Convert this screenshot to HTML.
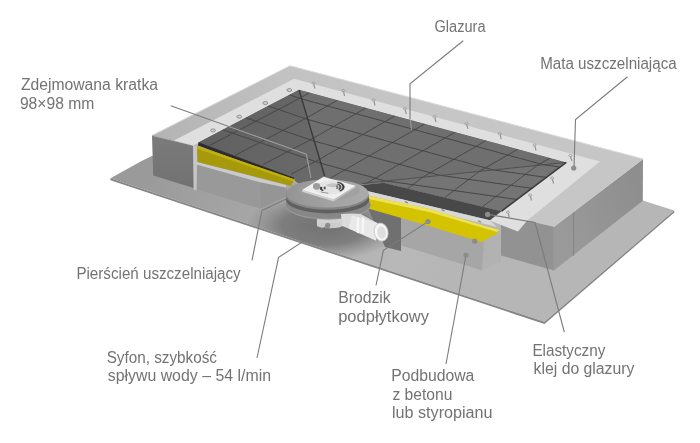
<!DOCTYPE html>
<html><head><meta charset="utf-8">
<style>
html,body{margin:0;padding:0;background:#fff;width:700px;height:443px;overflow:hidden}
svg{position:absolute;left:0;top:0;display:block}
text{font-family:"Liberation Sans",sans-serif;font-size:16px;fill:#737373}
.lbl{will-change:transform}
</style></head><body>
<svg width="700" height="443" viewBox="0 0 700 443">
<defs><linearGradient id="gslab" gradientUnits="userSpaceOnUse" x1="150" y1="165" x2="450" y2="300"><stop offset="0" stop-color="#9a9a9a"/><stop offset="0.35" stop-color="#a6a6a6"/><stop offset="0.8" stop-color="#b8b8b8"/><stop offset="1" stop-color="#b6b6b6"/></linearGradient><radialGradient id="gsh" cx="0.5" cy="0.5" r="0.5"><stop offset="0" stop-color="#6e6e6e" stop-opacity="0.95"/><stop offset="0.55" stop-color="#727272" stop-opacity="0.8"/><stop offset="1" stop-color="#7a7a7a" stop-opacity="0"/></radialGradient><clipPath id="slabclip"><polygon points="110.4,178.3 143.4,160.0 152.0,156.0 300.0,120.0 642.8,200.6 674.3,210.5 544.5,321.8"/></clipPath><linearGradient id="grbr" gradientUnits="userSpaceOnUse" x1="555" y1="225" x2="640" y2="190"><stop offset="0" stop-color="#9a9a9a"/><stop offset="1" stop-color="#8e8e8e"/></linearGradient><linearGradient id="gtop" gradientUnits="userSpaceOnUse" x1="160" y1="130" x2="420" y2="90"><stop offset="0" stop-color="#b4b4b4"/><stop offset="0.5" stop-color="#c2c2c2"/><stop offset="1" stop-color="#c6c6c6"/></linearGradient><linearGradient id="glb" gradientUnits="userSpaceOnUse" x1="170" y1="136" x2="170" y2="185"><stop offset="0" stop-color="#7b7b7b"/><stop offset="1" stop-color="#727272"/></linearGradient><clipPath id="tclip"><polygon points="299.0,89.7 566.3,162.4 501.6,211.2 383.5,182.7 362.0,184.5 350.0,190.0 330.0,192.0 305.0,188.0 296.0,181.5 294.0,178.8 198.3,142.4"/></clipPath><linearGradient id="gtile" gradientUnits="userSpaceOnUse" x1="220" y1="140" x2="520" y2="170"><stop offset="0" stop-color="#616161"/><stop offset="0.4" stop-color="#6c6c6c"/><stop offset="1" stop-color="#747474"/></linearGradient><linearGradient id="gtl" gradientUnits="userSpaceOnUse" x1="200" y1="140" x2="320" y2="180"><stop offset="0" stop-color="#606060"/><stop offset="1" stop-color="#6a6a6a"/></linearGradient><linearGradient id="gfl" gradientUnits="userSpaceOnUse" x1="286" y1="194" x2="369" y2="194"><stop offset="0" stop-color="#939393"/><stop offset="0.5" stop-color="#a2a2a2"/><stop offset="1" stop-color="#ababab"/></linearGradient></defs>
<polygon points="110.4,178.3 143.4,160.0 152.0,156.0 300.0,120.0 642.8,200.6 674.3,210.5 544.5,321.8" fill="url(#gslab)" />
<polygon points="110.4,178.3 544.5,321.8 674.3,210.5 674.3,212.5 544.5,324.0 110.4,180.3" fill="#868686" />
<ellipse cx="325" cy="226" rx="78" ry="34" fill="url(#gsh)" clip-path="url(#slabclip)"/>
<polygon points="553.9,226.7 643.0,158.9 642.8,200.8 553.9,270.4" fill="url(#grbr)" />
<polygon points="553.9,226.7 553.9,270.4 501.0,255.5 501.0,214.6" fill="#929292" />
<line x1="573.6" y1="212.5" x2="573.6" y2="256.0" stroke="#7e7e7e" stroke-width="0.8" />
<line x1="553.9" y1="226.7" x2="553.9" y2="270.4" stroke="#9c9c9c" stroke-width="0.8" />
<polygon points="152.0,135.5 290.0,65.8 643.0,158.9 553.9,226.7 527.5,220.6 499.0,211.0 193.0,145.4" fill="url(#gtop)" />
<polyline points="152.0,135.5 290.0,65.8 643.0,158.9" fill="none" stroke="#d8d8d8" stroke-width="1"/>
<polyline points="643.0,158.9 553.9,226.7" fill="none" stroke="#c8c8c8" stroke-width="1"/>
<polygon points="152.0,135.5 193.0,145.4 194.4,188.3 153.2,175.5" fill="url(#glb)" />
<polyline points="152.0,135.5 193.0,145.4" fill="none" stroke="#a8a8a8" stroke-width="0.8"/>
<polygon points="260.0,181.4 287.0,188.0 286.0,196.8 260.3,208.7" fill="#959595" />
<polygon points="195.5,163.9 260.0,180.6 260.3,208.7 195.5,189.0" fill="#999999" />
<polygon points="195.5,161.6 286.0,185.0 286.0,187.5 260.0,182.3 195.5,164.2" fill="#cacaca" />
<polygon points="481.0,240.0 501.0,234.0 501.0,262.0 482.0,270.3" fill="#b2b2b2" />
<polygon points="400.0,217.0 484.0,242.0 482.0,270.3 401.3,245.5" fill="#a6a6a6" />
<polygon points="367.0,206.0 401.0,216.0 401.0,251.0 385.0,247.0" fill="#707070" />
<polygon points="174.0,140.6 294.0,78.8 600.0,161.5 527.5,220.3 518.0,231.6 490.0,220.5 499.0,211.5 198.5,143.0 193.0,145.4" fill="#dfdfdf" />
<polygon points="193.0,145.4 197.0,146.0 197.0,164.0 196.6,190.5 193.6,189.4" fill="#c6c6c6" />
<ellipse cx="213" cy="130.4" rx="2.4" ry="1.5" fill="#cfcfcf" stroke="#8a8a8a" stroke-width="0.9"/>
<ellipse cx="239.2" cy="116.7" rx="2.4" ry="1.5" fill="#cfcfcf" stroke="#8a8a8a" stroke-width="0.9"/>
<ellipse cx="265.3" cy="103" rx="2.4" ry="1.5" fill="#cfcfcf" stroke="#8a8a8a" stroke-width="0.9"/>
<ellipse cx="289.3" cy="90.1" rx="2.4" ry="1.5" fill="#cfcfcf" stroke="#8a8a8a" stroke-width="0.9"/>
<ellipse cx="313.5" cy="83.1" rx="1.6" ry="1.1" fill="none" stroke="#9a9a9a" stroke-width="0.8"/>
<line x1="313.8" y1="84.2" x2="314.9" y2="88.5" stroke="#959595" stroke-width="1.2" />
<ellipse cx="343.2" cy="90.5" rx="1.6" ry="1.1" fill="none" stroke="#9a9a9a" stroke-width="0.8"/>
<line x1="343.5" y1="91.6" x2="344.6" y2="95.9" stroke="#959595" stroke-width="1.2" />
<ellipse cx="373.6" cy="100.1" rx="1.6" ry="1.1" fill="none" stroke="#9a9a9a" stroke-width="0.8"/>
<line x1="373.9" y1="101.2" x2="375.0" y2="105.5" stroke="#959595" stroke-width="1.2" />
<ellipse cx="404.9" cy="108.7" rx="1.6" ry="1.1" fill="none" stroke="#9a9a9a" stroke-width="0.8"/>
<line x1="405.2" y1="109.8" x2="406.3" y2="114.1" stroke="#959595" stroke-width="1.2" />
<ellipse cx="434.6" cy="116.7" rx="1.6" ry="1.1" fill="none" stroke="#9a9a9a" stroke-width="0.8"/>
<line x1="434.9" y1="117.8" x2="436.0" y2="122.1" stroke="#959595" stroke-width="1.2" />
<ellipse cx="466.5" cy="123.5" rx="1.6" ry="1.1" fill="none" stroke="#9a9a9a" stroke-width="0.8"/>
<line x1="466.8" y1="124.6" x2="467.9" y2="128.9" stroke="#959595" stroke-width="1.2" />
<ellipse cx="499.9" cy="133.7" rx="1.6" ry="1.1" fill="none" stroke="#9a9a9a" stroke-width="0.8"/>
<line x1="500.2" y1="134.8" x2="501.3" y2="139.1" stroke="#959595" stroke-width="1.2" />
<ellipse cx="534.6" cy="145.1" rx="1.6" ry="1.1" fill="none" stroke="#9a9a9a" stroke-width="0.8"/>
<line x1="534.9" y1="146.2" x2="536.0" y2="150.5" stroke="#959595" stroke-width="1.2" />
<ellipse cx="570.4" cy="155.6" rx="1.6" ry="1.1" fill="none" stroke="#9a9a9a" stroke-width="0.8"/>
<line x1="570.7" y1="156.7" x2="571.8" y2="161.0" stroke="#959595" stroke-width="1.2" />
<ellipse cx="552.1" cy="178.1" rx="1.6" ry="1.1" fill="none" stroke="#9a9a9a" stroke-width="0.8"/>
<line x1="552.4" y1="179.2" x2="553.5" y2="183.5" stroke="#959595" stroke-width="1.2" />
<ellipse cx="530.1" cy="195.1" rx="1.6" ry="1.1" fill="none" stroke="#9a9a9a" stroke-width="0.8"/>
<line x1="530.4" y1="196.2" x2="531.5" y2="200.5" stroke="#959595" stroke-width="1.2" />
<ellipse cx="507.9" cy="212.1" rx="1.6" ry="1.1" fill="none" stroke="#9a9a9a" stroke-width="0.8"/>
<line x1="508.2" y1="213.2" x2="509.3" y2="217.5" stroke="#959595" stroke-width="1.2" />
<polygon points="299.0,89.7 566.3,162.4 501.6,211.2 383.5,182.7 362.0,184.5 350.0,190.0 330.0,192.0 305.0,188.0 296.0,181.5 294.0,178.8 198.3,142.4" fill="url(#gtile)" />
<g clip-path="url(#tclip)">
<polygon points="299.0,89.7 198.3,142.4 193.3,162.4 327.5,206.5 327.5,186.5" fill="url(#gtl)" />
<polygon points="299.0,89.7 566.3,162.4 327.5,186.5" fill="#6f6f6f" />
<polygon points="566.3,162.4 571.3,162.4 506.6,231.2 327.5,206.5 327.5,186.5" fill="#747474" />
</g>
<g clip-path="url(#tclip)">
<polyline points="309.7,92.6 308.8,93.1 308.0,93.6 307.1,94.1 306.2,94.6 305.3,95.1 304.5,95.6 303.6,96.1 302.7,96.6 301.8,97.1 301.0,97.6 300.1,98.1 299.3,98.5 298.5,98.9 297.6,99.4 296.8,99.8 295.9,100.3 295.1,100.7 294.3,101.1 293.4,101.6 292.6,102.0 291.7,102.5 290.9,102.9 290.1,103.3 289.2,103.8 288.4,104.2 287.5,104.7 286.7,105.1 285.9,105.5 285.0,106.0 284.2,106.4 283.3,106.9 282.5,107.3 281.7,107.7 280.8,108.2 280.0,108.6 279.2,109.0 278.3,109.5 277.5,109.9 276.6,110.4 275.8,110.8 275.0,111.2 274.1,111.7 273.3,112.1 272.4,112.6 271.6,113.0 270.8,113.4 269.9,113.9 269.1,114.3 268.2,114.8 267.4,115.2 266.6,115.6 265.7,116.1 264.9,116.5 264.0,117.0 263.2,117.4 262.4,117.8 261.5,118.3 260.7,118.7 259.9,119.1 259.0,119.6 258.2,120.0 257.3,120.5 256.5,120.9 255.7,121.3 254.8,121.8 254.0,122.2 253.1,122.7 252.3,123.1 251.5,123.5 250.6,124.0 249.8,124.4 248.9,124.9 248.1,125.3 247.3,125.7 246.4,126.2 245.6,126.6 244.7,127.1 243.9,127.5 243.1,127.9 242.2,128.4 241.4,128.8 240.6,129.2 239.7,129.7 238.9,130.1 238.0,130.6 237.2,131.0 236.4,131.4 235.5,131.9 234.7,132.3 233.8,132.8 233.0,133.2 232.2,133.6 231.3,134.1 230.5,134.5 229.6,135.0 228.8,135.4 228.0,135.8 227.1,136.3 226.3,136.7 225.4,137.2 224.6,137.6 223.8,138.0 222.9,138.5 222.1,138.9 221.2,139.3 220.4,139.8 219.6,140.2 218.7,140.7 217.9,141.1 217.1,141.5 216.2,142.0 215.4,142.4 214.5,142.9 213.7,143.3 212.9,143.7 212.0,144.2 211.2,144.6 210.3,145.1 209.5,145.5 208.7,145.9" fill="none" stroke="#454545" stroke-width="1"/>
<polyline points="337.5,100.2 336.7,100.7 335.8,101.2 334.9,101.7 334.0,102.2 333.2,102.7 332.3,103.2 331.4,103.7 330.5,104.2 329.7,104.7 328.8,105.2 327.9,105.7 327.0,106.2 326.2,106.7 325.3,107.2 324.4,107.7 323.5,108.2 322.6,108.7 321.8,109.3 320.9,109.8 320.0,110.3 319.1,110.8 318.3,111.3 317.4,111.8 316.5,112.3 315.6,112.8 314.8,113.3 313.9,113.8 313.0,114.3 312.1,114.8 311.3,115.3 310.4,115.8 309.5,116.3 308.6,116.8 307.8,117.3 306.9,117.8 306.1,118.2 305.2,118.7 304.4,119.1 303.5,119.5 302.7,120.0 301.9,120.4 301.0,120.9 300.2,121.3 299.3,121.7 298.5,122.2 297.7,122.6 296.8,123.1 296.0,123.5 295.1,123.9 294.3,124.4 293.5,124.8 292.6,125.3 291.8,125.7 290.9,126.1 290.1,126.6 289.3,127.0 288.4,127.5 287.6,127.9 286.8,128.3 285.9,128.8 285.1,129.2 284.2,129.6 283.4,130.1 282.6,130.5 281.7,131.0 280.9,131.4 280.0,131.8 279.2,132.3 278.4,132.7 277.5,133.2 276.7,133.6 275.8,134.0 275.0,134.5 274.2,134.9 273.3,135.4 272.5,135.8 271.6,136.2 270.8,136.7 270.0,137.1 269.1,137.6 268.3,138.0 267.4,138.4 266.6,138.9 265.8,139.3 264.9,139.7 264.1,140.2 263.3,140.6 262.4,141.1 261.6,141.5 260.7,141.9 259.9,142.4 259.1,142.8 258.2,143.3 257.4,143.7 256.5,144.1 255.7,144.6 254.9,145.0 254.0,145.5 253.2,145.9 252.3,146.3 251.5,146.8 250.7,147.2 249.8,147.7 249.0,148.1 248.1,148.5 247.3,149.0 246.5,149.4 245.6,149.8 244.8,150.3 244.0,150.7 243.1,151.2 242.3,151.6 241.4,152.0 240.6,152.5 239.8,152.9 238.9,153.4 238.1,153.8 237.2,154.2 236.4,154.7 235.6,155.1" fill="none" stroke="#454545" stroke-width="1"/>
<polyline points="366.0,107.9 365.1,108.4 364.3,108.9 363.4,109.4 362.5,109.9 361.6,110.4 360.8,110.9 359.9,111.5 359.0,112.0 358.1,112.5 357.2,113.0 356.4,113.5 355.5,114.0 354.6,114.5 353.7,115.0 352.9,115.5 352.0,116.0 351.1,116.5 350.2,117.0 349.4,117.5 348.5,118.0 347.6,118.5 346.7,119.0 345.9,119.5 345.0,120.0 344.1,120.5 343.2,121.0 342.4,121.5 341.5,122.0 340.6,122.5 339.7,123.0 338.8,123.5 338.0,124.0 337.1,124.5 336.2,125.1 335.3,125.6 334.5,126.1 333.6,126.6 332.7,127.1 331.8,127.6 331.0,128.1 330.1,128.6 329.2,129.1 328.3,129.6 327.5,130.1 326.6,130.6 325.7,131.1 324.8,131.6 324.0,132.1 323.1,132.6 322.2,133.1 321.3,133.6 320.4,134.1 319.6,134.6 318.7,135.1 317.8,135.6 316.9,136.1 316.1,136.6 315.2,137.1 314.3,137.6 313.4,138.2 312.6,138.6 311.8,139.0 310.9,139.5 310.1,139.9 309.2,140.4 308.4,140.8 307.6,141.2 306.7,141.7 305.9,142.1 305.0,142.6 304.2,143.0 303.4,143.4 302.5,143.9 301.7,144.3 300.8,144.7 300.0,145.2 299.2,145.6 298.3,146.1 297.5,146.5 296.6,146.9 295.8,147.4 295.0,147.8 294.1,148.3 293.3,148.7 292.5,149.1 291.6,149.6 290.8,150.0 289.9,150.5 289.1,150.9 288.3,151.3 287.4,151.8 286.6,152.2 285.7,152.7 284.9,153.1 284.1,153.5 283.2,154.0 282.4,154.4 281.5,154.9 280.7,155.3 279.9,155.7 279.0,156.2 278.2,156.6 277.3,157.0 276.5,157.5 275.7,157.9 274.8,158.4 274.0,158.8 273.2,159.2 272.3,159.7 271.5,160.1 270.6,160.6 269.8,161.0 269.0,161.4 268.1,161.9 267.3,162.3 266.4,162.8 265.6,163.2 264.8,163.6 263.9,164.1 263.1,164.5" fill="none" stroke="#454545" stroke-width="1"/>
<polyline points="395.1,115.8 394.2,116.3 393.4,116.9 392.5,117.4 391.6,117.9 390.7,118.4 389.9,118.9 389.0,119.4 388.1,119.9 387.2,120.4 386.4,120.9 385.5,121.4 384.6,121.9 383.7,122.4 382.9,122.9 382.0,123.4 381.1,123.9 380.2,124.4 379.3,124.9 378.5,125.4 377.6,125.9 376.7,126.4 375.8,126.9 375.0,127.4 374.1,127.9 373.2,128.4 372.3,128.9 371.5,129.4 370.6,129.9 369.7,130.5 368.8,131.0 368.0,131.5 367.1,132.0 366.2,132.5 365.3,133.0 364.5,133.5 363.6,134.0 362.7,134.5 361.8,135.0 360.9,135.5 360.1,136.0 359.2,136.5 358.3,137.0 357.4,137.5 356.6,138.0 355.7,138.5 354.8,139.0 353.9,139.5 353.1,140.0 352.2,140.5 351.3,141.0 350.4,141.5 349.6,142.0 348.7,142.5 347.8,143.0 346.9,143.5 346.1,144.1 345.2,144.6 344.3,145.1 343.4,145.6 342.5,146.1 341.7,146.6 340.8,147.1 339.9,147.6 339.0,148.1 338.2,148.6 337.3,149.1 336.4,149.6 335.5,150.1 334.7,150.6 333.8,151.1 332.9,151.6 332.0,152.1 331.2,152.6 330.3,153.1 329.4,153.6 328.5,154.1 327.6,154.6 326.8,155.1 325.9,155.6 325.0,156.1 324.1,156.6 323.3,157.2 322.4,157.7 321.5,158.2 320.6,158.7 319.8,159.2 318.9,159.6 318.1,160.1 317.2,160.5 316.4,160.9 315.6,161.4 314.7,161.8 313.9,162.3 313.0,162.7 312.2,163.1 311.4,163.6 310.5,164.0 309.7,164.5 308.8,164.9 308.0,165.3 307.2,165.8 306.3,166.2 305.5,166.7 304.6,167.1 303.8,167.5 303.0,168.0 302.1,168.4 301.3,168.8 300.5,169.3 299.6,169.7 298.8,170.2 297.9,170.6 297.1,171.0 296.3,171.5 295.4,171.9 294.6,172.4 293.7,172.8 292.9,173.2 292.1,173.7 291.2,174.1" fill="none" stroke="#454545" stroke-width="1"/>
<polyline points="424.8,123.9 424.0,124.4 423.1,124.9 422.2,125.4 421.3,125.9 420.5,126.4 419.6,126.9 418.7,127.5 417.8,128.0 417.0,128.5 416.1,129.0 415.2,129.5 414.3,130.0 413.5,130.5 412.6,131.0 411.7,131.5 410.8,132.0 409.9,132.5 409.1,133.0 408.2,133.5 407.3,134.0 406.4,134.5 405.6,135.0 404.7,135.5 403.8,136.0 402.9,136.5 402.1,137.0 401.2,137.5 400.3,138.0 399.4,138.5 398.6,139.0 397.7,139.5 396.8,140.0 395.9,140.6 395.1,141.1 394.2,141.6 393.3,142.1 392.4,142.6 391.5,143.1 390.7,143.6 389.8,144.1 388.9,144.6 388.0,145.1 387.2,145.6 386.3,146.1 385.4,146.6 384.5,147.1 383.7,147.6 382.8,148.1 381.9,148.6 381.0,149.1 380.2,149.6 379.3,150.1 378.4,150.6 377.5,151.1 376.7,151.6 375.8,152.1 374.9,152.6 374.0,153.1 373.1,153.6 372.3,154.2 371.4,154.7 370.5,155.2 369.6,155.7 368.8,156.2 367.9,156.7 367.0,157.2 366.1,157.7 365.3,158.2 364.4,158.7 363.5,159.2 362.6,159.7 361.8,160.2 360.9,160.7 360.0,161.2 359.1,161.7 358.2,162.2 357.4,162.7 356.5,163.2 355.6,163.7 354.7,164.2 353.9,164.7 353.0,165.2 352.1,165.7 351.2,166.2 350.4,166.7 349.5,167.2 348.6,167.8 347.7,168.3 346.9,168.8 346.0,169.3 345.1,169.8 344.2,170.3 343.4,170.8 342.5,171.3 341.6,171.8 340.7,172.3 339.8,172.8 339.0,173.3 338.1,173.8 337.2,174.3 336.3,174.8 335.5,175.3 334.6,175.8 333.7,176.3 332.8,176.8 332.0,177.3 331.1,177.8 330.2,178.3 329.3,178.8 328.5,179.3 327.6,179.8 326.7,180.3 325.8,180.9 325.0,181.3 324.2,181.7 323.3,182.2 322.5,182.6 321.6,183.0 320.8,183.5 320.0,183.9" fill="none" stroke="#454545" stroke-width="1"/>
<polyline points="455.2,132.2 454.3,132.7 453.5,133.2 452.6,133.7 451.7,134.2 450.8,134.7 450.0,135.2 449.1,135.7 448.2,136.2 447.3,136.7 446.4,137.2 445.6,137.7 444.7,138.2 443.8,138.7 442.9,139.2 442.1,139.7 441.2,140.2 440.3,140.7 439.4,141.3 438.6,141.8 437.7,142.3 436.8,142.8 435.9,143.3 435.1,143.8 434.2,144.3 433.3,144.8 432.4,145.3 431.6,145.8 430.7,146.3 429.8,146.8 428.9,147.3 428.0,147.8 427.2,148.3 426.3,148.8 425.4,149.3 424.5,149.8 423.7,150.3 422.8,150.8 421.9,151.3 421.0,151.8 420.2,152.3 419.3,152.8 418.4,153.3 417.5,153.8 416.7,154.4 415.8,154.9 414.9,155.4 414.0,155.9 413.2,156.4 412.3,156.9 411.4,157.4 410.5,157.9 409.6,158.4 408.8,158.9 407.9,159.4 407.0,159.9 406.1,160.4 405.3,160.9 404.4,161.4 403.5,161.9 402.6,162.4 401.8,162.9 400.9,163.4 400.0,163.9 399.1,164.4 398.3,164.9 397.4,165.4 396.5,165.9 395.6,166.4 394.7,166.9 393.9,167.4 393.0,168.0 392.1,168.5 391.2,169.0 390.4,169.5 389.5,170.0 388.6,170.5 387.7,171.0 386.9,171.5 386.0,172.0 385.1,172.5 384.2,173.0 383.4,173.5 382.5,174.0 381.6,174.5 380.7,175.0 379.9,175.5 379.0,176.0 378.1,176.5 377.2,177.0 376.3,177.5 375.5,178.0 374.6,178.5 373.7,179.0 372.8,179.5 372.0,180.0 371.1,180.5 370.2,181.0 369.3,181.6 368.5,182.1 367.7,182.5 367.1,182.9 366.6,183.3 366.1,183.8 365.5,184.2 365.0,184.6 364.4,185.0 363.9,185.4 363.4,185.8 362.8,186.2 362.3,186.6 361.7,187.0 361.2,187.4 360.7,187.8 360.1,188.2 359.6,188.6 359.0,189.0 358.5,189.4 358.0,189.9 357.4,190.3 356.9,190.7" fill="none" stroke="#454545" stroke-width="1"/>
<polyline points="486.2,140.6 485.3,141.1 484.5,141.6 483.6,142.1 482.7,142.6 481.8,143.1 481.0,143.6 480.1,144.1 479.2,144.6 478.3,145.2 477.5,145.7 476.6,146.2 475.7,146.7 474.8,147.2 473.9,147.7 473.1,148.2 472.2,148.7 471.3,149.2 470.4,149.7 469.6,150.2 468.7,150.7 467.8,151.2 466.9,151.7 466.1,152.2 465.2,152.7 464.3,153.2 463.4,153.7 462.6,154.2 461.7,154.7 460.8,155.2 459.9,155.7 459.1,156.2 458.2,156.7 457.3,157.2 456.4,157.7 455.5,158.3 454.7,158.8 453.8,159.3 452.9,159.8 452.0,160.3 451.2,160.8 450.3,161.3 449.4,161.8 448.5,162.3 447.7,162.8 446.8,163.3 445.9,163.8 445.0,164.3 444.2,164.8 443.3,165.3 442.4,165.8 441.5,166.3 440.7,166.8 439.8,167.3 438.9,167.8 438.0,168.3 437.1,168.8 436.3,169.3 435.4,169.8 434.5,170.3 433.6,170.8 432.8,171.3 431.9,171.9 431.0,172.4 430.1,172.9 429.3,173.4 428.4,173.9 427.5,174.4 426.6,174.9 425.8,175.4 424.9,175.9 424.0,176.4 423.2,176.9 422.6,177.3 422.1,177.7 421.5,178.1 421.0,178.5 420.5,178.9 419.9,179.3 419.4,179.7 418.8,180.1 418.3,180.5 417.8,180.9 417.2,181.4 416.7,181.8 416.2,182.2 415.6,182.6 415.1,183.0 414.5,183.4 414.0,183.8 413.5,184.2 412.9,184.6 412.4,185.0 411.8,185.4 411.3,185.8 410.8,186.2 410.2,186.6 409.7,187.0 409.1,187.5 408.6,187.9 408.1,188.3 407.5,188.7 407.0,189.1 406.4,189.5 405.9,189.9 405.4,190.3 404.8,190.7 404.3,191.1 403.7,191.5 403.2,191.9 402.7,192.3 402.1,192.7 401.6,193.1 401.1,193.6 400.5,194.0 400.0,194.4 399.4,194.8 398.9,195.2 398.4,195.6 397.8,196.0 397.3,196.4" fill="none" stroke="#454545" stroke-width="1"/>
<polyline points="517.8,149.2 517.0,149.7 516.1,150.2 515.2,150.7 514.3,151.2 513.5,151.7 512.6,152.2 511.7,152.7 510.8,153.2 510.0,153.8 509.1,154.3 508.2,154.8 507.3,155.3 506.4,155.8 505.6,156.3 504.7,156.8 503.8,157.3 502.9,157.8 502.1,158.3 501.2,158.8 500.3,159.3 499.4,159.8 498.6,160.3 497.7,160.8 496.8,161.3 495.9,161.8 495.1,162.3 494.2,162.8 493.3,163.3 492.4,163.8 491.6,164.3 490.7,164.8 489.8,165.3 488.9,165.8 488.0,166.3 487.2,166.9 486.3,167.4 485.4,167.9 484.5,168.4 483.7,168.9 482.8,169.4 481.9,169.9 481.0,170.4 480.2,170.9 479.4,171.3 478.9,171.7 478.4,172.2 477.8,172.6 477.3,173.0 476.8,173.4 476.2,173.8 475.7,174.2 475.1,174.6 474.6,175.0 474.1,175.4 473.5,175.8 473.0,176.2 472.4,176.6 471.9,177.0 471.4,177.4 470.8,177.8 470.3,178.3 469.7,178.7 469.2,179.1 468.7,179.5 468.1,179.9 467.6,180.3 467.0,180.7 466.5,181.1 466.0,181.5 465.4,181.9 464.9,182.3 464.4,182.7 463.8,183.1 463.3,183.5 462.7,183.9 462.2,184.4 461.7,184.8 461.1,185.2 460.6,185.6 460.0,186.0 459.5,186.4 459.0,186.8 458.4,187.2 457.9,187.6 457.3,188.0 456.8,188.4 456.3,188.8 455.7,189.2 455.2,189.6 454.6,190.0 454.1,190.5 453.6,190.9 453.0,191.3 452.5,191.7 452.0,192.1 451.4,192.5 450.9,192.9 450.3,193.3 449.8,193.7 449.3,194.1 448.7,194.5 448.2,194.9 447.6,195.3 447.1,195.7 446.6,196.1 446.0,196.6 445.5,197.0 444.9,197.4 444.4,197.8 443.9,198.2 443.3,198.6 442.8,199.0 442.2,199.4 441.7,199.8 441.2,200.2 440.6,200.6 440.1,201.0 439.5,201.4 439.0,201.8 438.5,202.2" fill="none" stroke="#454545" stroke-width="1"/>
<polyline points="550.1,158.0 549.2,158.5 548.3,159.0 547.5,159.5 546.6,160.0 545.7,160.5 544.8,161.0 544.0,161.5 543.1,162.0 542.2,162.5 541.3,163.0 540.5,163.5 539.6,164.0 538.7,164.5 537.8,165.0 537.1,165.5 536.6,165.9 536.0,166.3 535.5,166.7 535.0,167.1 534.4,167.5 533.9,167.9 533.3,168.4 532.8,168.8 532.3,169.2 531.7,169.6 531.2,170.0 530.6,170.4 530.1,170.8 529.6,171.2 529.0,171.6 528.5,172.0 527.9,172.4 527.4,172.8 526.9,173.2 526.3,173.6 525.8,174.0 525.2,174.5 524.7,174.9 524.2,175.3 523.6,175.7 523.1,176.1 522.6,176.5 522.0,176.9 521.5,177.3 520.9,177.7 520.4,178.1 519.9,178.5 519.3,178.9 518.8,179.3 518.2,179.7 517.7,180.1 517.2,180.6 516.6,181.0 516.1,181.4 515.5,181.8 515.0,182.2 514.5,182.6 513.9,183.0 513.4,183.4 512.8,183.8 512.3,184.2 511.8,184.6 511.2,185.0 510.7,185.4 510.2,185.8 509.6,186.2 509.1,186.7 508.5,187.1 508.0,187.5 507.5,187.9 506.9,188.3 506.4,188.7 505.8,189.1 505.3,189.5 504.8,189.9 504.2,190.3 503.7,190.7 503.1,191.1 502.6,191.5 502.1,191.9 501.5,192.3 501.0,192.8 500.4,193.2 499.9,193.6 499.4,194.0 498.8,194.4 498.3,194.8 497.8,195.2 497.2,195.6 496.7,196.0 496.1,196.4 495.6,196.8 495.1,197.2 494.5,197.6 494.0,198.0 493.4,198.4 492.9,198.9 492.4,199.3 491.8,199.7 491.3,200.1 490.7,200.5 490.2,200.9 489.7,201.3 489.1,201.7 488.6,202.1 488.0,202.5 487.5,202.9 487.0,203.3 486.4,203.7 485.9,204.1 485.4,204.5 484.8,205.0 484.3,205.4 483.7,205.8 483.2,206.2 482.7,206.6 482.1,207.0 481.6,207.4 481.0,207.8 480.5,208.2" fill="none" stroke="#454545" stroke-width="1"/>
<polyline points="289.3,94.8 291.5,95.5 293.6,96.2 295.8,97.0 297.9,97.7 300.1,98.4 302.3,99.1 304.5,99.7 306.7,100.3 309.0,101.0 311.2,101.6 313.4,102.2 315.6,102.8 317.9,103.4 320.1,104.0 322.3,104.6 324.5,105.2 326.8,105.8 329.0,106.4 331.2,107.0 333.5,107.6 335.7,108.2 337.9,108.8 340.1,109.4 342.4,110.0 344.6,110.6 346.8,111.3 349.0,111.9 351.3,112.5 353.5,113.1 355.7,113.7 358.0,114.3 360.2,114.9 362.4,115.5 364.6,116.1 366.9,116.7 369.1,117.3 371.3,117.9 373.6,118.5 375.8,119.1 378.0,119.7 380.2,120.3 382.5,120.9 384.7,121.6 386.9,122.2 389.1,122.8 391.4,123.4 393.6,124.0 395.8,124.6 398.1,125.2 400.3,125.8 402.5,126.4 404.7,127.0 407.0,127.6 409.2,128.2 411.4,128.8 413.6,129.4 415.9,130.0 418.1,130.6 420.3,131.2 422.6,131.9 424.8,132.5 427.0,133.1 429.2,133.7 431.5,134.3 433.7,134.9 435.9,135.5 438.1,136.1 440.4,136.7 442.6,137.3 444.8,137.9 447.1,138.5 449.3,139.1 451.5,139.7 453.7,140.3 456.0,140.9 458.2,141.5 460.4,142.2 462.7,142.8 464.9,143.4 467.1,144.0 469.3,144.6 471.6,145.2 473.8,145.8 476.0,146.4 478.2,147.0 480.5,147.6 482.7,148.2 484.9,148.8 487.2,149.4 489.4,150.0 491.6,150.6 493.8,151.2 496.1,151.8 498.3,152.5 500.5,153.1 502.7,153.7 505.0,154.3 507.2,154.9 509.4,155.5 511.7,156.1 513.9,156.7 516.1,157.3 518.3,157.9 520.6,158.5 522.8,159.1 525.0,159.7 527.2,160.3 529.5,160.9 531.7,161.5 533.9,162.1 536.2,162.8 538.4,163.4 540.6,164.0 542.8,164.6 545.6,165.0 548.5,165.4 551.4,165.8 554.3,166.3 557.2,166.7 560.1,167.1" fill="none" stroke="#454545" stroke-width="1"/>
<polyline points="268.0,105.9 270.1,106.7 272.3,107.4 274.4,108.1 276.6,108.9 278.8,109.6 280.9,110.3 283.1,111.1 285.2,111.8 287.4,112.5 289.5,113.3 291.7,114.0 293.8,114.8 296.0,115.5 298.1,116.2 300.3,117.0 302.4,117.7 304.6,118.4 306.7,119.2 308.9,119.8 311.2,120.4 313.4,121.0 315.6,121.6 317.8,122.3 320.1,122.9 322.3,123.5 324.5,124.1 326.8,124.7 329.0,125.3 331.2,125.9 333.4,126.5 335.7,127.1 337.9,127.7 340.1,128.3 342.3,128.9 344.6,129.5 346.8,130.1 349.0,130.7 351.3,131.3 353.5,131.9 355.7,132.6 357.9,133.2 360.2,133.8 362.4,134.4 364.6,135.0 366.9,135.6 369.1,136.2 371.3,136.8 373.5,137.4 375.8,138.0 378.0,138.6 380.2,139.2 382.4,139.8 384.7,140.4 386.9,141.0 389.1,141.6 391.4,142.2 393.6,142.9 395.8,143.5 398.0,144.1 400.3,144.7 402.5,145.3 404.7,145.9 406.9,146.5 409.2,147.1 411.4,147.7 413.6,148.3 415.9,148.9 418.1,149.5 420.3,150.1 422.5,150.7 424.8,151.3 427.0,151.9 429.2,152.5 431.4,153.2 433.7,153.8 435.9,154.4 438.1,155.0 440.4,155.6 442.6,156.2 444.8,156.8 447.0,157.4 449.3,158.0 451.5,158.6 453.7,159.2 456.0,159.8 458.2,160.4 460.4,161.0 462.6,161.6 464.9,162.2 467.1,162.8 469.3,163.4 471.5,164.1 473.8,164.7 476.0,165.3 478.2,165.9 480.5,166.5 482.7,167.1 484.9,167.7 487.1,168.3 489.4,168.9 491.6,169.5 494.1,170.0 497.0,170.4 499.9,170.8 502.8,171.3 505.7,171.7 508.7,172.1 511.6,172.5 514.5,172.9 517.4,173.3 520.3,173.7 523.2,174.1 526.1,174.5 529.0,175.0 531.9,175.4 534.8,175.8 537.7,176.2 540.6,176.6 543.5,177.0 546.4,177.4" fill="none" stroke="#454545" stroke-width="1"/>
<polyline points="245.5,117.7 247.7,118.4 249.8,119.2 252.0,119.9 254.1,120.6 256.3,121.4 258.4,122.1 260.6,122.8 262.8,123.6 264.9,124.3 267.1,125.0 269.2,125.8 271.4,126.5 273.5,127.2 275.7,128.0 277.8,128.7 280.0,129.4 282.1,130.2 284.3,130.9 286.4,131.6 288.6,132.4 290.7,133.1 292.9,133.9 295.1,134.6 297.2,135.3 299.4,136.1 301.5,136.8 303.7,137.5 305.8,138.3 308.0,139.0 310.1,139.7 312.3,140.5 314.4,141.2 316.7,141.8 318.9,142.4 321.1,143.0 323.4,143.6 325.6,144.2 327.8,144.8 330.0,145.4 332.3,146.0 334.5,146.6 336.7,147.2 338.9,147.8 341.2,148.5 343.4,149.1 345.6,149.7 347.9,150.3 350.1,150.9 352.3,151.5 354.5,152.1 356.8,152.7 359.0,153.3 361.2,153.9 363.5,154.5 365.7,155.1 367.9,155.7 370.1,156.3 372.4,156.9 374.6,157.5 376.8,158.1 379.0,158.8 381.3,159.4 383.5,160.0 385.7,160.6 388.0,161.2 390.2,161.8 392.4,162.4 394.6,163.0 396.9,163.6 399.1,164.2 401.3,164.8 403.5,165.4 405.8,166.0 408.0,166.6 410.2,167.2 412.5,167.8 414.7,168.4 416.9,169.1 419.1,169.7 421.4,170.3 423.6,170.9 425.8,171.5 428.0,172.1 430.3,172.7 432.5,173.3 434.7,173.9 437.0,174.5 439.2,175.1 442.0,175.6 444.9,176.0 447.8,176.4 450.7,176.8 453.6,177.2 456.5,177.6 459.4,178.0 462.3,178.4 465.2,178.8 468.1,179.3 471.0,179.7 473.9,180.1 476.8,180.5 479.7,180.9 482.6,181.3 485.5,181.7 488.4,182.1 491.3,182.5 494.2,183.0 497.1,183.4 500.0,183.8 502.9,184.2 505.8,184.6 508.7,185.0 511.6,185.4 514.5,185.8 517.4,186.3 520.3,186.7 523.2,187.1 526.1,187.5 529.0,187.9 531.9,188.3" fill="none" stroke="#454545" stroke-width="1"/>
<polyline points="222.5,129.8 224.6,130.5 226.8,131.2 228.9,132.0 231.1,132.7 233.2,133.4 235.4,134.2 237.5,134.9 239.7,135.6 241.8,136.4 244.0,137.1 246.2,137.8 248.3,138.6 250.5,139.3 252.6,140.0 254.8,140.8 256.9,141.5 259.1,142.2 261.2,143.0 263.4,143.7 265.5,144.5 267.7,145.2 269.8,145.9 272.0,146.7 274.1,147.4 276.3,148.1 278.5,148.9 280.6,149.6 282.8,150.3 284.9,151.1 287.1,151.8 289.2,152.5 291.4,153.3 293.5,154.0 295.7,154.7 297.8,155.5 300.0,156.2 302.1,156.9 304.3,157.7 306.4,158.4 308.6,159.2 310.8,159.9 312.9,160.6 315.1,161.4 317.2,162.1 319.4,162.8 321.6,163.5 323.8,164.1 326.0,164.7 328.2,165.3 330.5,165.9 332.7,166.5 334.9,167.1 337.1,167.8 339.4,168.4 341.6,169.0 343.8,169.6 346.1,170.2 348.3,170.8 350.5,171.4 352.7,172.0 355.0,172.6 357.2,173.2 359.4,173.8 361.6,174.4 363.9,175.0 366.1,175.6 368.3,176.2 370.6,176.8 372.8,177.4 375.0,178.1 377.2,178.7 379.5,179.3 381.7,179.9 383.9,180.5 386.6,181.0 389.5,181.4 392.4,181.8 395.3,182.2 398.2,182.6 401.1,183.0 404.0,183.4 406.9,183.8 409.8,184.3 412.7,184.7 415.6,185.1 418.5,185.5 421.4,185.9 424.3,186.3 427.2,186.7 430.1,187.1 433.0,187.5 435.9,188.0 438.8,188.4 441.7,188.8 444.6,189.2 447.5,189.6 450.4,190.0 453.3,190.4 456.2,190.8 459.1,191.3 462.0,191.7 464.9,192.1 467.8,192.5 470.7,192.9 473.6,193.3 476.5,193.7 479.4,194.1 482.3,194.5 485.2,195.0 488.1,195.4 491.0,195.8 493.9,196.2 496.8,196.6 499.7,197.0 502.6,197.4 505.5,197.8 508.4,198.3 511.3,198.7 514.2,199.1 517.1,199.5" fill="none" stroke="#454545" stroke-width="1"/>
<line x1="299.0" y1="89.7" x2="324.7" y2="176.0" stroke="#3a3a3a" stroke-width="1.4" />
<line x1="566.3" y1="162.4" x2="362.0" y2="183.5" stroke="#505050" stroke-width="1.0" />
</g>
<line x1="566.3" y1="162.4" x2="501.6" y2="211.2" stroke="#3c3c3c" stroke-width="1.6" />
<polygon points="360.0,185.2 383.5,182.7 501.6,211.2 489.8,220.3 364.1,190.3 360.0,188.0" fill="#484848" />
<polygon points="198.5,142.3 294.0,177.8 294.0,180.8 198.0,145.6" fill="#2c2c2c" />
<polygon points="360.0,188.0 364.1,190.3 489.8,220.3 497.0,227.0 370.2,195.9 362.0,193.0" fill="#d8d8d8" />
<line x1="404.9" y1="201.4" x2="407.9" y2="203.0" stroke="#8a8a8a" stroke-width="1.3" />
<line x1="441.5" y1="209.5" x2="444.5" y2="211.1" stroke="#8a8a8a" stroke-width="1.3" />
<line x1="478.1" y1="220.7" x2="481.1" y2="222.3" stroke="#8a8a8a" stroke-width="1.3" />
<polygon points="197.1,146.1 294.3,179.3 291.2,185.9 197.9,161.9" fill="#a69a0a" />
<polygon points="197.1,146.1 294.3,179.3 294.3,181.8 197.1,148.8" fill="#c0b010" />
<polygon points="364.0,195.0 430.0,209.1 484.0,225.8 499.6,230.0 496.0,234.3 481.0,242.0 430.0,226.2 363.7,207.3" fill="#d4c300" />
<polygon points="364.0,195.0 430.0,209.1 484.0,225.8 499.6,230.0 497.0,232.0 430.0,212.2 364.0,198.0" fill="#ede15a" />
<polygon points="316.9,212.0 342.6,212.0 342.6,225.5 316.9,225.5" fill="#d2d2d2" />
<ellipse cx="329.7" cy="225.5" rx="12.8" ry="2.8" fill="#cdcdcd"/>
<ellipse cx="328" cy="205.3" rx="42.6" ry="14.4" fill="#9a9a9a"/>
<ellipse cx="328" cy="204.3" rx="42.4" ry="14.2" fill="#878787"/>
<ellipse cx="327.6" cy="199.6" rx="41.8" ry="13.8" fill="#606060"/>
<polygon points="341.0,214.0 352.0,213.5 360.6,213.9 377.7,223.3 376.0,240.4 348.6,228.4 342.0,226.0" fill="#dcdcdc" />
<polygon points="352.0,215.6 377.7,223.3 376.0,240.4 348.6,228.4" fill="#e9e9e9" />
<polygon points="357.0,217.0 359.2,217.7 358.8,233.5 356.6,232.5" fill="#f7f7f7" />
<polygon points="362.0,217.0 364.2,217.7 363.8,233.5 361.6,232.5" fill="#f7f7f7" />
<ellipse cx="381.1" cy="232.1" rx="6.9" ry="9.1" transform="rotate(-12 381.1 232.1)" fill="#f7f7f7" stroke="#c4c4c4" stroke-width="0.8"/>
<ellipse cx="381.6" cy="232.6" rx="4.3" ry="6.3" transform="rotate(-12 381.6 232.6)" fill="#dedede"/>
<polygon points="296.0,203.0 298.4,203.0 298.4,207.5 296.0,207.5" fill="#5e5e5e" />
<polygon points="309.0,203.0 311.4,203.0 311.4,207.5 309.0,207.5" fill="#5e5e5e" />
<polygon points="345.0,203.0 347.4,203.0 347.4,207.5 345.0,207.5" fill="#5e5e5e" />
<polygon points="358.0,203.0 360.4,203.0 360.4,207.5 358.0,207.5" fill="#5e5e5e" />
<ellipse cx="327.3" cy="195.6" rx="41.6" ry="14.1" fill="#858585"/>
<ellipse cx="327.3" cy="193.5" rx="41.4" ry="14.0" fill="url(#gfl)"/>
<ellipse cx="329" cy="190.6" rx="31" ry="9.6" fill="#9c9c9c" opacity="0.6"/>
<polygon points="302.0,189.9 333.8,199.6 333.8,201.4 302.0,191.7" fill="#cfcfcf" />
<polygon points="333.8,199.6 355.7,185.7 355.7,187.4 333.8,201.4" fill="#bdbdbd" />
<polygon points="302.0,189.9 323.5,176.7 355.7,185.7 333.8,199.6" fill="#efefef" />
<g transform="translate(330,187.6) rotate(-4) scale(1,0.45)"><circle r="15.6" fill="#e4e4e4"/><path d="M-4,-6 C2,-12 10,-8 8,-2 C4,2 -2,-2 -4,-6Z" fill="#c4c4c4"/><path d="M7.74,-11.06 A13.5,13.5 0 0 1 9.55,9.55" fill="none" stroke="#3c3c3c" stroke-width="2.2"/><path d="M7.42,-7.42 A10.5,10.5 0 0 1 8.60,6.02" fill="none" stroke="#4a4a4a" stroke-width="2.0"/><path d="M6.50,-3.75 A7.5,7.5 0 0 1 6.50,3.75" fill="none" stroke="#6a6a6a" stroke-width="1.8"/><path d="M-6.89,5.79 A9,9 0 0 1 -8.46,-3.08" fill="none" stroke="#3e3e3e" stroke-width="2.2"/><path d="M-4.76,2.75 A5.5,5.5 0 0 1 -4.76,-2.75" fill="none" stroke="#555" stroke-width="1.8"/><path d="M-2.08,11.82 A12,12 0 0 1 -9.19,7.71" fill="none" stroke="#7a7a7a" stroke-width="1.6"/></g>
<ellipse cx="316.6" cy="186.4" rx="3.6" ry="3.3" fill="#9c9c9c"/>
<polyline points="170.8,105.8 306.4,154.2 311.0,178.0" fill="none" stroke="#7b7b7b" stroke-width="1.1"/>
<polyline points="463.2,40.8 410.0,83.7 410.0,119.5" fill="none" stroke="#7b7b7b" stroke-width="1.1"/>
<polyline points="627.5,76.8 575.5,119.5 574.0,168.0" fill="none" stroke="#7b7b7b" stroke-width="1.1"/>
<polyline points="287.7,198.3 262.0,210.5 252.0,260.3" fill="none" stroke="#7b7b7b" stroke-width="1.1"/>
<polyline points="327.7,225.4 278.6,257.4 257.0,358.0" fill="none" stroke="#7b7b7b" stroke-width="1.1"/>
<polyline points="428.0,221.6 383.4,250.3 376.0,285.5" fill="none" stroke="#7b7b7b" stroke-width="1.1"/>
<polyline points="466.0,255.0 446.0,364.0" fill="none" stroke="#7b7b7b" stroke-width="1.1"/>
<polyline points="487.6,214.4 535.0,222.4 564.3,332.0" fill="none" stroke="#7b7b7b" stroke-width="1.1"/>
<g clip-path="url(#tclip)">
<polyline points="170.8,105.8 306.4,154.2 311.0,178.0" fill="none" stroke="#9d9d9d" stroke-width="1"/>
<polyline points="410.2,118.0 411.5,130.0" fill="none" stroke="#9d9d9d" stroke-width="1"/>
</g>
<circle cx="573.7" cy="168" r="2.6" fill="#8c8c8c"/>
<circle cx="428" cy="221.6" r="2.6" fill="#8c8c8c"/>
<circle cx="466" cy="255" r="2.6" fill="#8c8c8c"/>
<circle cx="474.7" cy="241.2" r="2.6" fill="#8c8c8c"/>
<circle cx="487.6" cy="214.4" r="2.6" fill="#8c8c8c"/>
<circle cx="327.7" cy="225.4" r="2.6" fill="#8c8c8c"/>
<g class="lbl">
<text x="20.90" y="90.00" textLength="137.10" lengthAdjust="spacingAndGlyphs">Zdejmowana kratka</text>
<text x="19.90" y="108.50" textLength="74.50" lengthAdjust="spacingAndGlyphs">98×98 mm</text>
<text x="434.50" y="32.20" textLength="51.00" lengthAdjust="spacingAndGlyphs">Glazura</text>
<text x="540.20" y="68.90" textLength="136.50" lengthAdjust="spacingAndGlyphs">Mata uszczelniająca</text>
<text x="76.40" y="279.00" textLength="164.30" lengthAdjust="spacingAndGlyphs">Pierścień uszczelniający</text>
<text x="106.70" y="363.40" textLength="110.30" lengthAdjust="spacingAndGlyphs">Syfon, szybkość</text>
<text x="107.70" y="381.40" textLength="163.30" lengthAdjust="spacingAndGlyphs">spływu wody – 54 l/min</text>
<text x="338.20" y="303.40" textLength="52.50" lengthAdjust="spacingAndGlyphs">Brodzik</text>
<text x="338.20" y="321.80" textLength="90.80" lengthAdjust="spacingAndGlyphs">podpłytkowy</text>
<text x="391.20" y="381.40" textLength="83.10" lengthAdjust="spacingAndGlyphs">Podbudowa</text>
<text x="392.40" y="399.80" textLength="60.00" lengthAdjust="spacingAndGlyphs">z betonu</text>
<text x="391.90" y="418.00" textLength="100.70" lengthAdjust="spacingAndGlyphs">lub styropianu</text>
<text x="532.40" y="355.80" textLength="73.00" lengthAdjust="spacingAndGlyphs">Elastyczny</text>
<text x="533.60" y="374.00" textLength="100.80" lengthAdjust="spacingAndGlyphs">klej do glazury</text>
</g>
</svg>
</body></html>
